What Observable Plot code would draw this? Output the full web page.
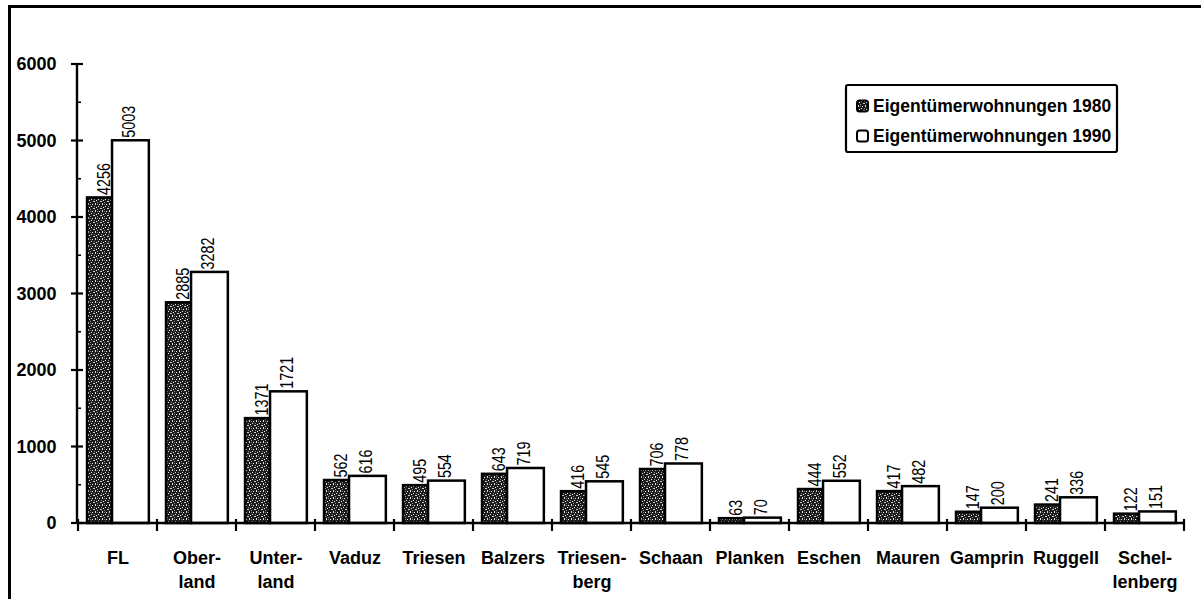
<!DOCTYPE html>
<html><head><meta charset="utf-8">
<script src="https://cdn.jsdelivr.net/npm/d3@7"></script>
<script src="https://cdn.jsdelivr.net/npm/@observablehq/plot@0.6"></script>
<style>
body{margin:0;background:#fff;}
#wrap{position:relative;width:1201px;height:599px;overflow:hidden;background:#fff;}
#frame{position:absolute;left:8px;top:5px;width:1300px;height:700px;border-top:3px solid #000;border-left:3px solid #000;pointer-events:none}
</style></head><body><div id="wrap"><div id="frame"></div></div>
<script>
const categories = ["FL","Oberland","Unterland","Vaduz","Triesen","Balzers","Triesenberg","Schaan","Planken","Eschen","Mauren","Gamprin","Ruggell","Schellenberg"];
const categoryLabels = ["FL","Ober-\nland","Unter-\nland","Vaduz","Triesen","Balzers","Triesen-\nberg","Schaan","Planken","Eschen","Mauren","Gamprin","Ruggell","Schel-\nlenberg"];
const values1980 = [4256,2885,1371,562,495,643,416,706,63,444,417,147,241,122];
const values1990 = [5003,3282,1721,616,554,719,545,778,70,552,482,200,336,151];
const seriesNames = ["Eigentümerwohnungen 1980","Eigentümerwohnungen 1990"];
const yTicks = [0,1000,2000,3000,4000,5000,6000];
const yMinorTicks = [500,1500,2500,3500,4500,5500];

const W = 1201, H = 599, mL = 77, mR = 16, mT = 64, mB = 76;
const bw = (W - mL - mR) / categories.length;

const rows1980 = categories.map((c, i) => ({cat: c, value: values1980[i]}));
const rows1990 = categories.map((c, i) => ({cat: c, value: values1990[i]}));

function axesMark(index, scales, values, dimensions) {
  const {x, y} = scales;
  const g = d3.create("svg:g").attr("stroke", "#000").attr("fill", "none");
  const x0 = dimensions.marginLeft, x1 = dimensions.width - dimensions.marginRight;
  const y0 = y(0);
  const band = (typeof x.bandwidth === "function") ? x.bandwidth() : (x.bandwidth ?? bw);
  g.append("line").attr("x1", x0).attr("x2", x0).attr("y1", y(yTicks[yTicks.length-1])).attr("y2", y0).attr("stroke-width", 2.4);
  for (const t of yTicks) g.append("line").attr("x1", x0 - 6).attr("x2", x0 + 6).attr("y1", y(t)).attr("y2", y(t)).attr("stroke-width", 2.2);
  for (const t of yMinorTicks) g.append("line").attr("x1", x0).attr("x2", x0 + 4).attr("y1", y(t)).attr("y2", y(t)).attr("stroke-width", 1.6);
  g.append("line").attr("x1", x0).attr("x2", x1).attr("y1", y0).attr("y2", y0).attr("stroke-width", 2.6);
  const bounds = categories.map(c => x(c)).concat([x(categories[categories.length-1]) + band]);
  for (const b of bounds) g.append("line").attr("x1", b).attr("x2", b).attr("y1", y0 - 4).attr("y2", y0 + 8).attr("stroke-width", 2.2);
  return g.node();
}

const labelFont = "'Liberation Sans', Arial, sans-serif";

const chart = Plot.plot({
  width: W, height: H,
  marginLeft: mL, marginRight: mR, marginTop: mT, marginBottom: mB,
  style: {fontFamily: "'Liberation Sans', Arial, sans-serif", fontSize: "18px", fontWeight: "bold", color: "#000", background: "transparent"},
  x: {domain: categories, padding: 0},
  y: {domain: [0, 6000]},
  marks: [
    Plot.barY(rows1980, {x: "cat", y: "value", fill: "url(#stipple)", stroke: "#000", strokeWidth: 2.5,
      insetLeft: bw * 0.114, insetRight: bw * (1 - 0.43)}),
    Plot.barY(rows1990, {x: "cat", y: "value", fill: "#fff", stroke: "#000", strokeWidth: 2.5,
      insetLeft: bw * 0.43, insetRight: bw * (1 - 0.897)}),
    Plot.text(rows1980, {x: "cat", y: "value", text: d => String(d.value), rotate: -90, textAnchor: "start", lineAnchor: "middle",
      dx: -13.5, dy: -3, fontSize: 18, fontWeight: "normal", fontFamily: labelFont, className: "vlabel"}),
    Plot.text(rows1990, {x: "cat", y: "value", text: d => String(d.value), rotate: -90, textAnchor: "start", lineAnchor: "middle",
      dx: 11.5, dy: -3, fontSize: 18, fontWeight: "normal", fontFamily: labelFont, className: "vlabel"}),
    axesMark,
    Plot.axisY({ticks: yTicks, tickSize: 0, tickPadding: 21, tickFormat: d => String(d), label: null, fontSize: 18, fontWeight: "bold"}),
    Plot.axisX({tickSize: 0, tickPadding: 23, tickFormat: d => categoryLabels[categories.indexOf(d)], label: null, lineHeight: 1.36, fontSize: 18, fontWeight: "bold"})
  ]
});

const svg = d3.select(chart);
svg.style("position", "absolute").style("left", "0px").style("top", "0px");
// condensed look for the value labels
svg.selectAll(".vlabel text").each(function() {
  const n = this.textContent.length;
  d3.select(this).attr("textLength", n * 8).attr("lengthAdjust", "spacingAndGlyphs");
});
svg.insert("defs", ":first-child").html(`
  <pattern id="stipple" width="7" height="7" patternUnits="userSpaceOnUse">
    <rect width="7" height="7" fill="#1c1c1c"/>
    <rect x="1" y="1" width="1" height="1" fill="#f4f4f4"/>
    <rect x="4" y="0" width="1" height="2" fill="#dcdcdc"/>
    <rect x="5" y="4" width="1" height="1" fill="#f4f4f4"/>
    <rect x="2" y="5" width="2" height="1" fill="#cfcfcf"/>
    <rect x="0" y="3" width="1" height="1" fill="#e6e6e6"/>
    <rect x="3" y="3" width="1" height="1" fill="#8a8a8a"/>
    <rect x="6" y="6" width="1" height="1" fill="#9a9a9a"/>
    <rect x="6" y="1" width="1" height="1" fill="#777"/>
  </pattern>`);

// legend box
const lg = svg.append("g").attr("font-family", "'Liberation Sans', Arial, sans-serif").attr("font-size", 17.5).attr("font-weight", "bold").attr("text-anchor", "start");
lg.append("rect").attr("x", 846).attr("y", 85).attr("width", 271).attr("height", 67).attr("rx", 2)
  .attr("fill", "#fff").attr("stroke", "#000").attr("stroke-width", 2.2);
const swFill = ["url(#stipple)", "#fff"];
seriesNames.forEach((name, i) => {
  const cy = 106 + i * 30;
  lg.append("rect").attr("x", 857).attr("y", cy - 5.5).attr("width", 11).attr("height", 11).attr("rx", 2.5)
    .attr("fill", swFill[i]).attr("stroke", "#000").attr("stroke-width", 2);
  lg.append("text").attr("x", 873).attr("y", cy + 5.8).attr("fill", "#000").attr("text-anchor", "start").text(name);
});

document.getElementById("wrap").insertBefore(chart, document.getElementById("frame"));
</script>
</body></html>
